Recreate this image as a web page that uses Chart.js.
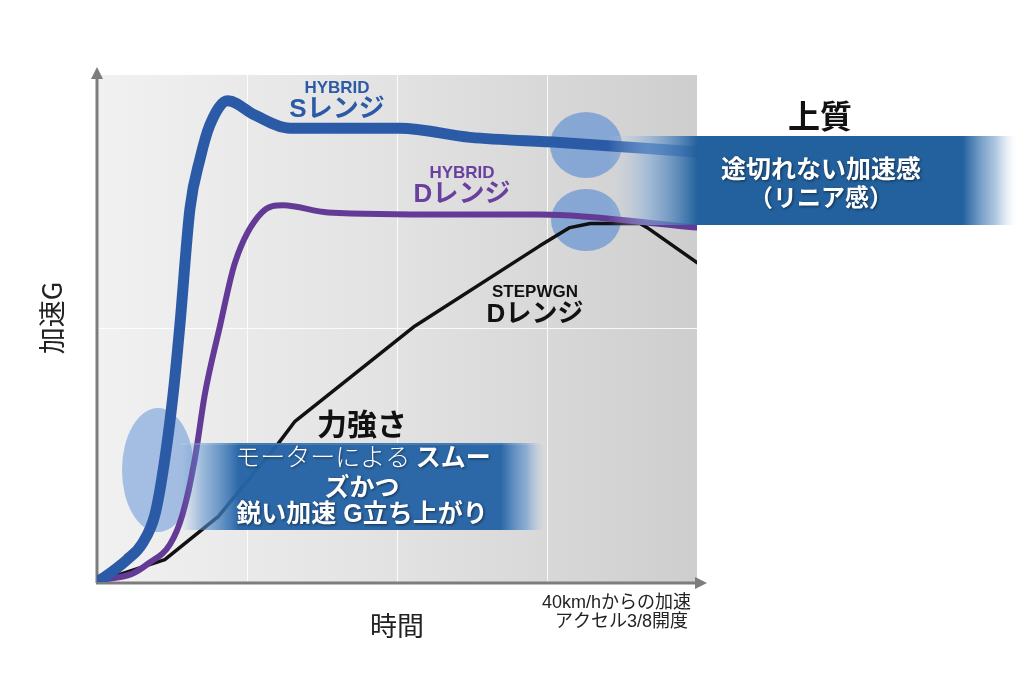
<!DOCTYPE html>
<html lang="ja">
<head>
<meta charset="utf-8">
<title>加速G 比較</title>
<script src="https://cdn.jsdelivr.net/npm/chart.js@4/dist/chart.umd.min.js"></script>
<style>
  html, body { margin: 0; padding: 0; background: #ffffff; }
  canvas { display: block; }
</style>
</head>
<body>
<canvas id="chart" width="1023" height="684"></canvas>
<script>
// Time axis (0–100) and acceleration G (0–100), relative units
const hybridSTime  = [0.5, 1.3, 5.0, 7.5, 9.7, 11.3, 12.7, 13.8, 15.5, 17.2, 18.8, 21.8, 26.3, 32.2, 50.5, 62.2, 77.2, 100];
const hybridSAccel = [0.4, 1.0, 4.4, 7.5, 13.5, 24.2, 37.2, 50.5, 73.7, 83.6, 90.1, 94.9, 92.1, 89.5, 89.5, 87.7, 86.7, 84.8];

const hybridDTime  = [0.5, 5.8, 8.5, 12.2, 14.3, 16.3, 18.0, 20.5, 23.0, 27.5, 31.0, 38.5, 58.8, 73.8, 100];
const hybridDAccel = [0.4, 1.6, 3.6, 7.5, 13.5, 24.2, 37.2, 50.5, 63.0, 72.9, 74.3, 72.9, 72.5, 72.5, 69.9];

const stepwgnTime  = [0.5, 11.3, 20.2, 30.2, 33.0, 53.0, 73.8, 78.8, 82.2, 90.5, 91.7, 100];
const stepwgnAccel = [0.2, 4.4, 12.9, 27.3, 31.7, 50.5, 66.3, 69.9, 70.7, 70.7, 69.9, 63.0];

const xGridTicks = [25, 50, 75];
const yGridTicks = [50];

const toPoints = (xs, ys) => xs.map((x, i) => ({ x, y: ys[i] }));

const JP = '"Noto Sans CJK JP", "Noto Sans", sans-serif';
const LATIN_JP = '"Liberation Sans", "Noto Sans CJK JP", sans-serif';

// Background, axes, highlight ellipses, callout boxes and labels
const decorations = {
  id: 'decorations',
  beforeDraw(chart) {
    const { ctx, chartArea: a } = chart;
    const g = ctx.createLinearGradient(a.left, 0, a.right, 0);
    g.addColorStop(0, '#f1f1f1');
    g.addColorStop(0.5, '#e2e2e2');
    g.addColorStop(1, '#cecece');
    ctx.save();
    ctx.fillStyle = g;
    ctx.fillRect(a.left, a.top, a.right - a.left, a.bottom - a.top);
    ctx.restore();
  },
  beforeDatasetsDraw(chart) {
    const { ctx, chartArea: a } = chart;
    ctx.save();
    // axes with arrow heads
    ctx.strokeStyle = '#7d7d7d';
    ctx.fillStyle = '#7d7d7d';
    ctx.lineWidth = 3;
    ctx.beginPath();
    ctx.moveTo(a.left, a.bottom + 1);
    ctx.lineTo(a.left, a.top - 2);
    ctx.moveTo(a.left - 1, a.bottom + 1);
    ctx.lineTo(a.right + 2, a.bottom + 1);
    ctx.stroke();
    ctx.beginPath();
    ctx.moveTo(a.left, a.top - 8);
    ctx.lineTo(a.left - 6, a.top + 4);
    ctx.lineTo(a.left + 6, a.top + 4);
    ctx.closePath();
    ctx.fill();
    ctx.beginPath();
    ctx.moveTo(a.right + 10, a.bottom + 1);
    ctx.lineTo(a.right - 2, a.bottom - 5);
    ctx.lineTo(a.right - 2, a.bottom + 7);
    ctx.closePath();
    ctx.fill();

    // highlight ellipses
    ctx.fillStyle = 'rgba(70,130,210,0.55)';
    const ell = (cx, cy, rx, ry) => { ctx.beginPath(); ctx.ellipse(cx, cy, rx, ry, 0, 0, Math.PI * 2); ctx.fill(); };
    ell(586, 145, 36, 33);
    ell(586, 220, 35, 31);
    ctx.fillStyle = 'rgba(70,130,210,0.45)';
    ell(158, 470, 36, 62);
    ctx.restore();
  },
  afterDatasetsDraw(chart) {
    const { ctx } = chart;
    ctx.save();

    // callout: lower box
    let g = ctx.createLinearGradient(180, 0, 545, 0);
    g.addColorStop(0, 'rgba(120,165,215,0)');
    g.addColorStop(0.06, 'rgba(90,145,205,0.55)');
    g.addColorStop(0.16, 'rgba(38,100,166,0.97)');
    g.addColorStop(0.88, 'rgba(38,100,166,0.97)');
    g.addColorStop(0.95, 'rgba(90,145,205,0.6)');
    g.addColorStop(1, 'rgba(160,190,225,0)');
    ctx.fillStyle = g;
    ctx.fillRect(180, 443, 365, 87);
    ctx.fillStyle = 'rgba(255,255,255,0.12)';
    ctx.fillRect(180, 443, 365, 2);

    // callout: right box
    g = ctx.createLinearGradient(608, 0, 1016, 0);
    g.addColorStop(0, 'rgba(200,215,235,0)');
    g.addColorStop(0.1, 'rgba(130,170,215,0.6)');
    g.addColorStop(0.22, 'rgba(30,94,156,0.98)');
    g.addColorStop(0.87, 'rgba(30,94,156,0.98)');
    g.addColorStop(0.95, 'rgba(120,160,205,0.6)');
    g.addColorStop(1, 'rgba(200,215,235,0)');
    ctx.fillStyle = g;
    ctx.fillRect(608, 136, 408, 89);

    ctx.textAlign = 'center';
    ctx.textBaseline = 'middle';

    // series labels
    const label = (top, bottom, cx, y1, y2, color) => {
      ctx.fillStyle = color;
      ctx.font = 'bold 17px ' + LATIN_JP;
      ctx.fillText(top, cx, y1);
      ctx.font = 'bold 26px ' + LATIN_JP;
      ctx.fillText(bottom, cx, y2);
    };
    label('HYBRID', 'Sレンジ', 337, 88, 110, '#2c5aa6');
    label('HYBRID', 'Dレンジ', 462, 173, 195, '#6a3f9e');
    label('STEPWGN', 'Dレンジ', 535, 292, 315, '#111111');

    // headings
    ctx.fillStyle = '#111111';
    ctx.font = 'bold 32px ' + JP;
    ctx.fillText('上質', 820, 116);
    ctx.font = 'bold 30px ' + JP;
    ctx.fillText('力強さ', 362, 424);

    // white box text
    ctx.shadowColor = 'rgba(0,0,0,0.55)';
    ctx.shadowBlur = 3;
    ctx.shadowOffsetX = 1;
    ctx.shadowOffsetY = 1;
    ctx.fillStyle = '#ffffff';
    ctx.font = 'bold 25px ' + JP;
    ctx.fillText('途切れない加速感', 821, 168);
    ctx.font = 'bold 24px ' + JP;
    ctx.fillText('（リニア感）', 821, 197);

    ctx.textAlign = 'left';
    const partA = 'モーターによる ';
    const partB = 'スムー';
    ctx.font = '300 25px ' + JP;
    const wA = ctx.measureText(partA).width;
    ctx.font = 'bold 25px ' + JP;
    const wB = ctx.measureText(partB).width;
    const start = 363 - (wA + wB) / 2;
    ctx.font = '300 25px ' + JP;
    ctx.fillText(partA, start, 456);
    ctx.font = 'bold 25px ' + JP;
    ctx.fillText(partB, start + wA, 456);
    ctx.textAlign = 'center';
    ctx.fillText('ズかつ', 362, 486);
    ctx.font = 'bold 25px ' + LATIN_JP;
    ctx.fillText('鋭い加速 G立ち上がり', 362, 515);

    ctx.shadowColor = 'transparent';
    ctx.shadowBlur = 0;
    ctx.shadowOffsetX = 0;
    ctx.shadowOffsetY = 0;

    // axis titles
    ctx.fillStyle = '#222222';
    ctx.font = '27px ' + JP;
    ctx.fillText('時間', 397, 626);
    ctx.save();
    ctx.translate(52, 318);
    ctx.rotate(-Math.PI / 2);
    ctx.fillText('加速G', 0, 0);
    ctx.restore();

    ctx.textAlign = 'right';
    ctx.font = '18px ' + LATIN_JP;
    ctx.fillText('40km/hからの加速', 691, 603);
    ctx.fillText('アクセル3/8開度', 688, 622);

    ctx.restore();
  }
};

new Chart(document.getElementById('chart'), {
  type: 'line',
  data: {
    datasets: [
      {
        label: 'HYBRID Sレンジ',
        data: toPoints(hybridSTime, hybridSAccel),
        borderColor: '#2b5ba7',
        borderWidth: 11,
        cubicInterpolationMode: 'monotone',
        borderJoinStyle: 'round',
        borderCapStyle: 'round'
      },
      {
        label: 'HYBRID Dレンジ',
        data: toPoints(hybridDTime, hybridDAccel),
        borderColor: '#633b96',
        borderWidth: 6,
        cubicInterpolationMode: 'monotone',
        borderJoinStyle: 'round',
        borderCapStyle: 'round'
      },
      {
        label: 'STEPWGN Dレンジ',
        data: toPoints(stepwgnTime, stepwgnAccel),
        borderColor: '#111111',
        borderWidth: 3.5,
        tension: 0,
        borderJoinStyle: 'round',
        borderCapStyle: 'round'
      }
    ]
  },
  options: {
    responsive: false,
    animation: false,
    layout: { padding: { left: 97, top: 75, right: 326, bottom: 102 } },
    elements: { point: { radius: 0 } },
    plugins: { legend: { display: false }, tooltip: { enabled: false } },
    scales: {
      x: {
        type: 'linear', min: 0, max: 100,
        ticks: { display: false, stepSize: 25 },
        grid: {
          drawTicks: false,
          lineWidth: 1,
          color: c => xGridTicks.includes(c.tick.value) ? 'rgba(255,255,255,0.85)' : 'rgba(0,0,0,0)'
        },
        border: { display: false }
      },
      y: {
        type: 'linear', min: 0, max: 100,
        ticks: { display: false, stepSize: 50 },
        grid: {
          drawTicks: false,
          lineWidth: 1,
          color: c => yGridTicks.includes(c.tick.value) ? 'rgba(255,255,255,0.85)' : 'rgba(0,0,0,0)'
        },
        border: { display: false }
      }
    }
  },
  plugins: [decorations]
});
</script>
</body>
</html>
